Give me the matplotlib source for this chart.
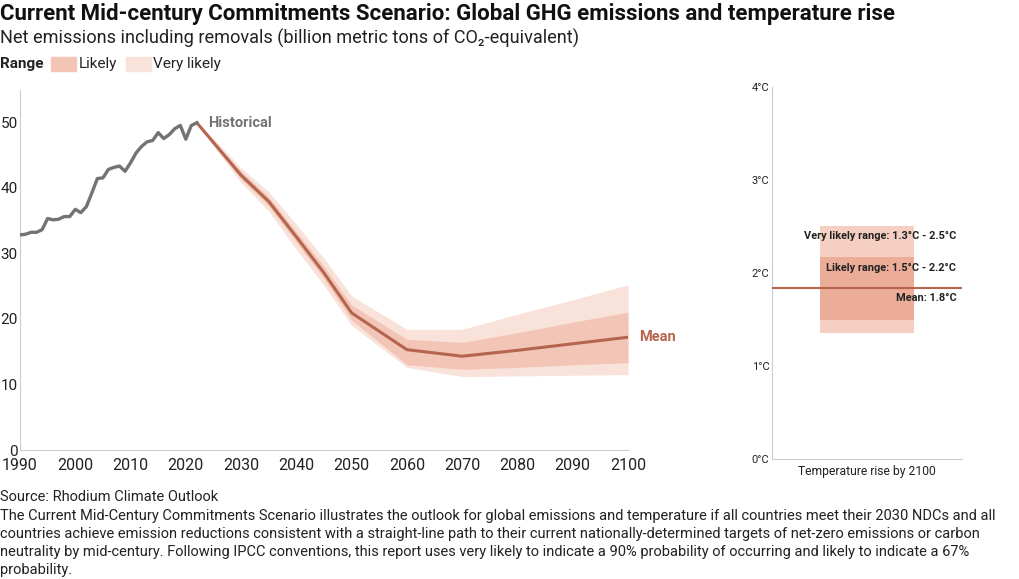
import matplotlib
matplotlib.use("Agg")
import matplotlib.pyplot as plt
from matplotlib.patches import Rectangle

plt.rcParams["font.family"] = ["Roboto", "DejaVu Sans"]

GRAY = "#737373"; MEAN = "#B5654E"; LIKELY = "#F3C5B6"; VLIKELY = "#F9E2DA"
AX = "#CCCCCC"; TXT = "#222222"

# historical emissions
hist_years = list(range(1990, 2023))
hist_vals = [32.8, 32.9, 33.2, 33.2, 33.6, 35.3, 35.1, 35.2, 35.6, 35.6,
             36.7, 36.2, 37.1, 39.2, 41.4, 41.5, 42.8, 43.1, 43.3, 42.5,
             43.8, 45.3, 46.3, 47.0, 47.2, 48.4, 47.5, 48.1, 49.0, 49.5,
             47.4, 49.5, 49.9]

# projection
proj_years = [2022, 2025, 2030, 2035, 2040, 2045, 2050, 2060, 2070, 2080, 2090, 2100]
proj_mean = [49.9, 46.9, 41.9, 37.9, 32.5, 27.0, 20.9, 15.3, 14.3, 15.2, 16.2, 17.2]
likely_hi = [49.9, 47.2, 42.5, 38.6, 33.3, 28.0, 22.1, 16.9, 16.4, 17.9, 19.5, 21.0]
likely_lo = [49.9, 46.6, 41.3, 37.2, 31.7, 26.1, 19.8, 13.0, 12.3, 12.6, 13.0, 13.3]
vlikely_hi = [49.9, 47.5, 43.0, 39.4, 34.4, 29.2, 23.5, 18.4, 18.4, 20.7, 22.9, 25.2]
vlikely_lo = [49.9, 46.3, 40.8, 36.4, 30.6, 25.1, 19.0, 12.6, 11.2, 11.3, 11.4, 11.5]

# temperature rise by 2100
temp_mean = 1.84
temp_likely = (1.5, 2.17)
temp_vlikely = (1.35, 2.51)
temp_ticks = [0, 1, 2, 3, 4]

note_lines = [
    "The Current Mid-Century Commitments Scenario illustrates the outlook for global emissions and temperature if all countries meet their 2030 NDCs and all",
    "countries achieve emission reductions consistent with a straight-line path to their current nationally-determined targets of net-zero emissions or carbon",
    "neutrality by mid-century. Following IPCC conventions, this report uses very likely to indicate a 90% probability of occurring and likely to indicate a 67%",
    "probability.",
]

fig = plt.figure(figsize=(10.2, 5.79), dpi=100)
W, H = 1020, 579

def box(l, t, r, b):
    return [l / W, 1 - b / H, (r - l) / W, (b - t) / H]

ax = fig.add_axes(box(20, 90, 628, 450))
ax.fill_between(proj_years, vlikely_lo, vlikely_hi, color=VLIKELY, lw=0, zorder=1)
ax.fill_between(proj_years, likely_lo, likely_hi, color=LIKELY, lw=0, zorder=2)
ax.plot(proj_years, proj_mean, color=MEAN, lw=2.2, zorder=3)
ax.plot(hist_years, hist_vals, color=GRAY, lw=2.4, zorder=4)
ax.set_xlim(1990, 2100)
ax.set_ylim(0, 54.9)
ax.set_xticks(range(1990, 2101, 10))
ax.set_yticks(range(0, 51, 10))
for s in ["top", "right"]:
    ax.spines[s].set_visible(False)
for s in ["left", "bottom"]:
    ax.spines[s].set_color(AX)
ax.tick_params(length=0, labelsize=11.5, colors=TXT)
ax.tick_params(axis="y", pad=1.5, labelsize=11)
ax.tick_params(axis="x", pad=6)
ax.text(2024, hist_vals[-1], "Historical", color=GRAY, fontsize=10.5,
        fontweight="bold", va="center", ha="left")
ax.text(2102, proj_mean[-1], "Mean", color=MEAN, fontsize=10.5,
        fontweight="bold", va="center", ha="left", clip_on=False)

# temperature panel
tx = fig.add_axes(box(772, 87, 962, 459))
tx.set_xlim(0, 1)
tx.set_ylim(0, 4)
tx.add_patch(Rectangle((0.253, temp_vlikely[0]), 0.495, temp_vlikely[1] - temp_vlikely[0],
                       color="#F5D0C2", lw=0, zorder=1))
tx.add_patch(Rectangle((0.253, temp_likely[0]), 0.495, temp_likely[1] - temp_likely[0],
                       color="#EBAD98", lw=0, zorder=2))
tx.axhline(temp_mean, color=MEAN, lw=1.5, zorder=3)
tx.set_yticks(temp_ticks)
tx.set_yticklabels([f"{t}°C" for t in temp_ticks])
tx.set_xticks([])
tx.set_xlabel("Temperature rise by 2100", fontsize=8.7, color=TXT, labelpad=4)
for s in ["top", "right"]:
    tx.spines[s].set_visible(False)
for s in ["left", "bottom"]:
    tx.spines[s].set_color(AX)
tx.tick_params(length=0, labelsize=8, colors=TXT, pad=2)
tx.text(0.97, 2.4, "Very likely range: 1.3°C - 2.5°C", ha="right", va="center",
        fontsize=7.9, fontweight="bold", color=TXT, zorder=5)
tx.text(0.97, 2.05, "Likely range: 1.5°C - 2.2°C", ha="right", va="center",
        fontsize=7.9, fontweight="bold", color=TXT, zorder=5)
tx.text(0.97, 1.73, "Mean: 1.8°C", ha="right", va="center",
        fontsize=7.9, fontweight="bold", color=TXT, zorder=5)

# titles and legend
fig.text(0, 1 - 14 / H, "Current Mid-century Commitments Scenario: Global GHG emissions and temperature rise",
         fontsize=16, fontweight="bold", color="#111111", va="center", ha="left")
fig.text(0, 1 - 38 / H, "Net emissions including removals (billion metric tons of CO₂-equivalent)",
         fontsize=13.1, color=TXT, va="center", ha="left")
fig.text(0, 1 - 64 / H, "Range", fontsize=11, fontweight="bold", color=TXT,
         va="center", ha="left")
fig.patches.append(Rectangle((51 / W, 1 - 71 / H), 25 / W, 14 / H, color=LIKELY,
                             transform=fig.transFigure, figure=fig))
fig.text(79 / W, 1 - 64 / H, "Likely", fontsize=11, color=TXT, va="center", ha="left")
fig.patches.append(Rectangle((126 / W, 1 - 71 / H), 25 / W, 14 / H, color=VLIKELY,
                             transform=fig.transFigure, figure=fig))
fig.text(153 / W, 1 - 64 / H, "Very likely", fontsize=11, color=TXT, va="center", ha="left")

# footer
fig.text(0, 1 - 497 / H, "Source: Rhodium Climate Outlook", fontsize=10.5, color=TXT,
         va="center", ha="left")
for i, line in enumerate(note_lines):
    fig.text(0, 1 - (516 + 18 * i) / H, line, fontsize=10.5, color=TXT,
             va="center", ha="left")

fig.savefig("out.png", dpi=100, facecolor="white")
